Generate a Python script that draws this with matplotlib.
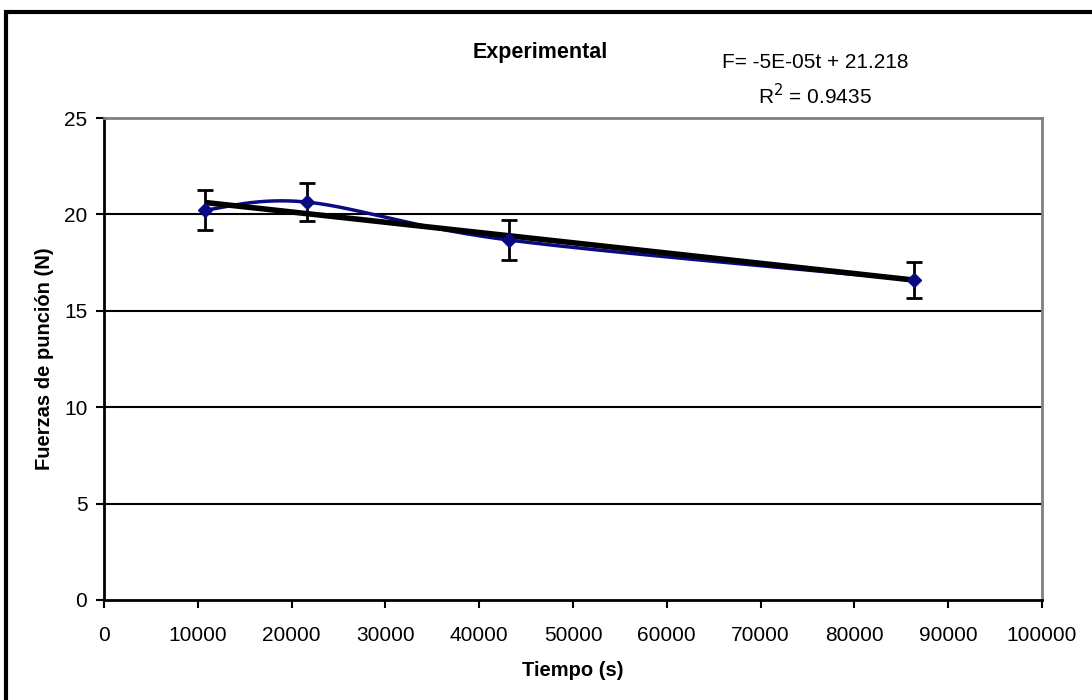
import matplotlib
matplotlib.use("Agg")
import matplotlib.pyplot as plt
import numpy as np
from matplotlib.patches import Rectangle

plt.rcParams["font.family"] = ["Liberation Sans", "DejaVu Sans"]

# data
tiempo_s = [10800, 21600, 43200, 86400]
fuerza_n = [20.23, 20.64, 18.67, 16.60]
error_n = [1.05, 1.0, 1.05, 0.95]
x_ticks = [0, 10000, 20000, 30000, 40000, 50000, 60000, 70000, 80000, 90000, 100000]
y_ticks = [0, 5, 10, 15, 20, 25]

NAVY = "#0a0a82"
GRID_GRAY = "#808080"


def smooth_curve(xs, ys, sx, sy, n=60):
    # Excel-style smoothed line: Catmull-Rom Bezier in screen-ish units
    pts = np.column_stack([np.asarray(xs, float) * sx, np.asarray(ys, float) * sy])
    ext = np.vstack([pts[0], pts, pts[-1]])
    out = []
    for i in range(len(pts) - 1):
        p0, p1, p2, p3 = ext[i], ext[i + 1], ext[i + 2], ext[i + 3]
        c1 = p1 + (p2 - p0) / 6
        c2 = p2 - (p3 - p1) / 6
        t = np.linspace(0, 1, n)[:, None]
        seg = ((1 - t) ** 3) * p1 + 3 * ((1 - t) ** 2) * t * c1 + 3 * (1 - t) * t ** 2 * c2 + t ** 3 * p2
        out.append(seg)
    out = np.vstack(out)
    return out[:, 0] / sx, out[:, 1] / sy


fig = plt.figure(figsize=(10.92, 7.0), dpi=100)
ax = fig.add_axes([0.0952, 0.1429, 0.8590, 0.6885])

# smoothed series line
sx = 938 / 100000
sy = 482 / 25
cx, cy = smooth_curve(tiempo_s, fuerza_n, sx, sy)
ax.plot(cx, cy, color=NAVY, lw=2.5, zorder=3)

# linear trendline
slope, intercept = np.polyfit(tiempo_s, fuerza_n, 1)
tx = np.array([tiempo_s[0], tiempo_s[-1]])
ax.plot(tx, slope * tx + intercept, color="black", lw=4.0, zorder=4, solid_capstyle="butt")

# error bars and markers
ax.errorbar(tiempo_s, fuerza_n, yerr=error_n, fmt="none", ecolor="black",
            elinewidth=2.0, capsize=6, capthick=2.0, zorder=5)
ax.plot(tiempo_s, fuerza_n, linestyle="none", marker="D", markersize=7,
        color=NAVY, zorder=6)

ax.set_xlim(0, 100000)
ax.set_ylim(0, 25)
ax.set_xticks(x_ticks)
ax.set_yticks(y_ticks)
ax.tick_params(axis="both", labelsize=15, length=6, width=1.5, direction="out", color="black")
ax.tick_params(axis="x", pad=13)
ax.tick_params(axis="y", pad=6)

for yv in y_ticks[1:-1]:
    ax.axhline(yv, color="black", lw=1.5, zorder=1)

for side in ("left", "bottom"):
    ax.spines[side].set_color("black")
    ax.spines[side].set_linewidth(2.0)
for side in ("top", "right"):
    ax.spines[side].set_color(GRID_GRAY)
    ax.spines[side].set_linewidth(2.0)

ax.set_xlabel("Tiempo (s)", fontsize=14.5, fontweight="bold", labelpad=11)
ax.set_ylabel("Fuerzas de punción (N)", fontsize=14.5, fontweight="bold", labelpad=7)

fig.text(0.495, 0.925, "Experimental", fontsize=15.5, fontweight="bold", ha="center", va="center")
fig.text(0.7465, 0.911, "F= -5E-05t + 21.218", fontsize=15, ha="center", va="center")
fig.text(0.7465, 0.864, "R$^2$ = 0.9435", fontsize=15, ha="center", va="center")

# outer chart frame (cut by the image at right and bottom)
fig.patches.append(Rectangle((0.0055, -0.1), 1.2, 1.083, transform=fig.transFigure,
                             fill=False, edgecolor="black", lw=3.0, clip_on=False))

fig.savefig("out.png", dpi=100)
